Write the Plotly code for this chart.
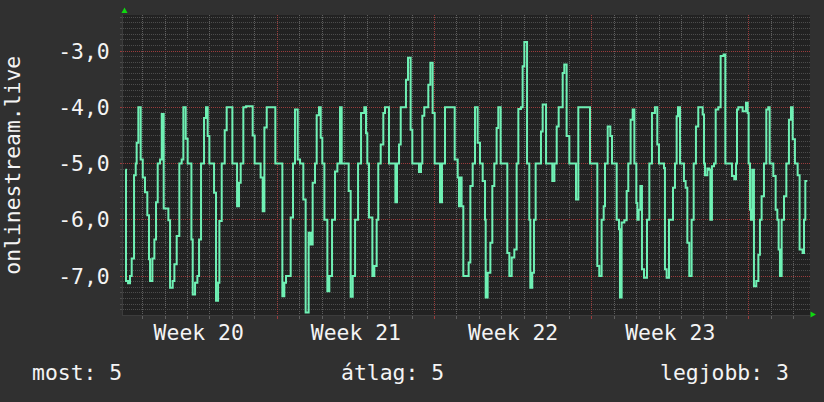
import pandas as pd
import plotly.graph_objects as go

# ---- data (hours since Mon 2024-05-13 00:00, ISO week 20) ----
hours = [
    5.6, 6.3, 8.5, 10.6, 12.4, 14.9, 16.7, 17.7, 19.5, 22.0, 24.2, 26.6, 29.1, 30.9, 32.0,
    34.5, 36.6, 38.4, 40.2, 42.7, 44.5, 46.6, 51.6, 53.4, 56.2, 58.0, 60.5, 63.3, 65.8,
    67.6, 70.1, 72.2, 76.2, 77.6, 80.1, 82.6, 84.4, 86.5, 89.7, 91.8, 93.6, 95.4, 100.4,
    102.5, 104.7, 106.1, 108.6, 111.8, 113.9, 120.0, 125.0, 127.1, 128.9, 131.7, 134.6,
    141.7, 143.8, 150.2, 152.4, 154.2, 156.7, 165.9, 173.4, 175.5, 177.3, 182.3, 184.8,
    186.9, 189.8, 192.3, 195.8, 198.3, 201.5, 203.7, 205.8, 208.3, 210.1, 212.6, 214.4,
    216.1, 218.3, 221.5, 223.6, 226.5, 229.7, 232.2, 235.0, 236.8, 244.3, 246.4, 248.6,
    251.1, 254.3, 257.5, 261.0, 262.8, 264.2, 266.0, 269.6, 271.7, 274.2, 275.9, 278.5,
    281.3, 283.1, 287.4, 294.2, 295.9, 298.1, 299.9, 305.5, 307.7, 310.5, 312.3, 319.4,
    321.6, 323.0, 325.1, 329.4, 331.6, 334.0, 336.2, 341.9, 344.0, 347.2, 357.6, 360.8,
    362.2, 363.6, 365.0, 366.8,
    372.5, 374.3, 376.8, 379.3, 382.1, 384.6, 387.5, 390.0, 390.7, 392.8, 395.7, 397.8,
    399.9, 402.4, 404.2, 406.7, 413.8, 416.0, 418.5, 421.3, 423.8, 425.6, 428.4, 430.2,
    432.0, 434.9, 437.3, 438.4, 440.5, 442.3, 444.1, 449.8, 451.6, 455.2, 461.9, 464.1,
    466.6, 468.7, 473.0, 474.7, 477.2, 480.1, 487.2, 489.7, 502.2, 510.0, 512.1, 514.6,
    516.8, 518.2, 521.1, 523.9, 525.7, 530.7, 533.2, 534.2, 536.0, 538.9, 541.4, 543.1,
    545.6, 547.8, 549.6, 551.7, 552.8, 554.2, 556.0, 557.7, 559.9, 563.1, 565.6, 568.4,
    571.6, 574.1, 575.9, 581.3, 582.3, 584.1, 586.6, 590.9, 593.0, 594.8, 596.2, 598.4,
    602.6, 604.4, 606.2, 608.3, 610.8, 613.0, 615.4, 617.9, 622.6, 624.0, 625.1, 627.6,
    629.7, 630.8, 632.5, 634.7, 636.5, 639.3, 641.8, 645.0, 646.8, 653.9, 656.4, 658.2,
    659.3, 660.7, 665.3, 668.9, 670.7, 671.7, 673.2, 674.2, 675.6, 677.4, 679.9, 682.1,
    683.8, 685.6, 688.1, 690.6, 692.7, 694.2, 698.1, 700.6, 702.4, 703.8, 705.2, 707.0,
    709.5, 712.0, 714.8, 717.0, 718.8, 721.2, 724.1, 726.2, 729.4, 730.9, 732.3, 734.4,
]
values = [
    -5.11, -7.09, -7.13, -7.00, -6.69, -5.21, -5.00, -4.63, -4.00, -4.93, -5.25, -5.51, -5.92, -6.70, -7.09,
    -6.69, -6.35, -5.69, -5.00, -4.93, -4.12, -5.80, -6.01, -7.21, -7.09, -6.79, -6.29, -5.00, -4.93,
    -4.00, -4.56, -5.00, -6.35, -7.33, -7.12, -7.00, -6.35, -5.00, -4.19, -4.00, -4.51, -5.00, -5.52,
    -7.44, -7.12, -6.02, -5.00, -4.41, -4.00, -5.00, -5.76, -5.34, -5.00, -4.00, -3.98,
    -4.50, -5.00, -5.25, -5.85, -4.36, -4.00, -5.00, -7.36, -7.12, -7.00, -5.96, -5.00,
    -4.04, -4.93, -5.00, -5.64, -7.65, -6.23, -6.44, -5.34, -5.00, -4.14, -4.00, -4.54,
    -5.00, -6.00, -7.27, -7.00, -6.00, -5.14, -5.00, -4.00, -5.00, -5.49, -7.37, -7.00,
    -6.00, -5.00, -4.10, -4.00, -4.46, -5.00, -5.96, -7.00, -6.82, -6.00, -5.00, -4.66,
    -4.10, -4.00, -5.00, -5.69, -5.00, -4.66, -4.00, -3.51, -3.12, -4.40, -5.00, -5.15,
    -5.00, -4.15, -4.00, -3.60, -3.21, -4.10, -5.00, -5.69, -5.00, -4.00, -4.93, -5.25,
    -5.76, -5.25, -5.76, -7.00,
    -6.76, -5.40, -5.00, -4.00, -4.63, -5.00, -5.31, -6.00, -7.38, -6.94, -6.41, -5.40,
    -5.00, -4.37, -4.00, -5.00, -6.59, -7.00, -6.67, -6.53, -5.00, -4.03, -4.00, -3.27,
    -2.84, -5.00, -6.00, -7.21, -6.94, -6.00, -5.00, -4.43, -3.95, -5.00, -5.31, -5.00,
    -4.34, -4.00, -3.39, -3.24, -4.51, -5.00, -5.64, -4.00, -5.00, -6.82, -7.00, -6.00,
    -5.76, -5.00, -4.34, -4.51, -5.00, -6.00, -6.17, -7.38, -6.05, -6.01, -5.49, -5.00,
    -4.22, -4.04, -5.00, -5.70, -6.00, -5.82, -5.40, -6.88, -7.03, -6.00, -5.00, -4.10,
    -4.00, -4.66, -5.00, -5.08, -6.88, -7.03, -6.00, -5.43, -5.00, -4.16, -4.00, -5.00,
    -5.31, -5.43, -6.41, -7.00, -6.00, -5.00, -4.34, -4.00, -4.13, -5.00, -5.21, -5.09,
    -5.11, -6.00, -5.05, -5.00, -4.04, -4.00, -3.09, -3.06, -5.00, -5.22, -5.28, -5.00,
    -4.04, -4.00, -4.07, -3.92, -4.10, -5.00, -5.82, -6.00, -5.11, -7.18, -7.09, -6.62,
    -6.00, -5.58, -5.00, -4.04, -4.00, -5.00, -5.22, -5.82, -6.00, -6.53, -7.00, -6.00,
    -5.58, -5.00, -4.22, -4.00, -4.57, -5.00, -5.21, -6.53, -6.59, -6.00, -5.31, -5.31,
]

base_date = "2024-05-13"          # Monday of ISO week 20
x_range_hours = [3.1, 737.3]
y_range = [-7.693, -2.36]
y_tickvals = [-7, -6, -5, -4, -3]
y_ticktext = ["-7,0", "-6,0", "-5,0", "-4,0", "-3,0"]
week_label_format = "Week %V"
series_name = "onlinestream.live"
legend_texts = ["most: 5", "átlag: 5", "legjobb: 3"]

# ---- styling ----
FONT = "DejaVu Sans Mono"
FS = 21.4
TXT = "#f4f4f4"
LINE = "#6ff0b4"
MAJOR = "#9a3c3c"
MINOR_X = "#606060"
MINOR_Y = "#4c4c4c"
DASH = "1px,1px"
DAY_MS = 86400000

base = pd.Timestamp(base_date)
times = base + pd.to_timedelta(hours, unit="h")
xr = [(base + pd.Timedelta(hours=h)).strftime("%Y-%m-%d %H:%M:%S") for h in x_range_hours]

fig = go.Figure()
# helper (invisible) trace that carries the overlay axes with week labels / major grid
fig.add_trace(go.Scatter(x=times[:1], y=values[:1], xaxis="x2", yaxis="y2",
                         mode="markers", marker=dict(opacity=0), hoverinfo="skip"))
fig.add_trace(
    go.Scatter(
        x=times, y=values, mode="lines",
        line=dict(color=LINE, width=2, shape="hv"),
        hoverinfo="skip",
    )
)

fig.update_layout(
    width=824, height=402,
    margin=dict(l=123, r=14, t=15, b=87),
    paper_bgcolor="#303030",
    plot_bgcolor="#222222",
    showlegend=False,
    font=dict(family=FONT, size=FS, color=TXT),
    # daily grid and 0.1 grid on the main axes
    xaxis=dict(
        type="date", range=xr,
        tickmode="linear", tick0=base_date, dtick=DAY_MS,
        showticklabels=False,
        showgrid=True, gridcolor=MINOR_X, griddash=DASH, gridwidth=1,
        ticks="outside", ticklen=3, tickcolor=MINOR_X,
        showline=True, linecolor="#3c3c3c", linewidth=1, zeroline=False,
    ),
    yaxis=dict(
        range=y_range,
        tickmode="linear", tick0=0, dtick=0.1,
        showticklabels=False,
        showgrid=True, gridcolor=MINOR_Y, griddash=DASH, gridwidth=1,
        ticks="outside", ticklen=2, tickcolor=MINOR_Y,
        showline=True, linecolor="#3c3c3c", linewidth=1, zeroline=False,
    ),
    # weekly labels / major grid, integer labels / major grid
    xaxis2=dict(
        type="date", overlaying="x", matches="x", anchor="y2", side="bottom",
        range=xr,
        tickmode="linear", tick0=base_date, dtick=7 * DAY_MS,
        tickformat=week_label_format, ticklabelmode="period",
        showgrid=True, gridcolor=MAJOR, griddash=DASH, gridwidth=1,
        ticks="outside", ticklen=3, tickcolor=MAJOR,
        ticklabelstandoff=-5, zeroline=False, showline=False,
    ),
    yaxis2=dict(
        overlaying="y", matches="y", anchor="x2", side="left",
        range=y_range,
        tickmode="array", tickvals=y_tickvals, ticktext=y_ticktext,
        showgrid=True, gridcolor=MAJOR, griddash=DASH, gridwidth=1,
        ticks="outside", ticklen=2, tickcolor=MAJOR,
        ticklabelstandoff=6, zeroline=False, showline=False,
    ),
)

# y-axis title (rotated) and the bottom summary row
annotations = [
    dict(text=series_name, textangle=-90, xref="paper", yref="paper",
         x=-0.162, y=0.5, xanchor="center", yanchor="middle", showarrow=False),
]
legend_pos = [(-0.135, "left"), (0.392, "center"), (0.972, "right")]
for txt, (px, anch) in zip(legend_texts, legend_pos):
    annotations.append(dict(text=txt, xref="paper", yref="paper", x=px, y=-0.192,
                            xanchor=anch, yanchor="middle", showarrow=False))
fig.update_layout(annotations=annotations)

# green axis arrows
ARROW = "#10d810"
fig.add_shape(type="path", xref="paper", yref="paper",
              path="M -0.0022,1.0067 L 0.0066,1.0067 L 0.0022,1.025 Z",
              fillcolor=ARROW, line=dict(width=0))
fig.add_shape(type="path", xref="paper", yref="paper",
              path="M 1.0007,0.0117 L 1.0007,-0.0083 L 1.0087,0.0017 Z",
              fillcolor=ARROW, line=dict(width=0))

fig.write_html("out.html", config={"displayModeBar": False})
